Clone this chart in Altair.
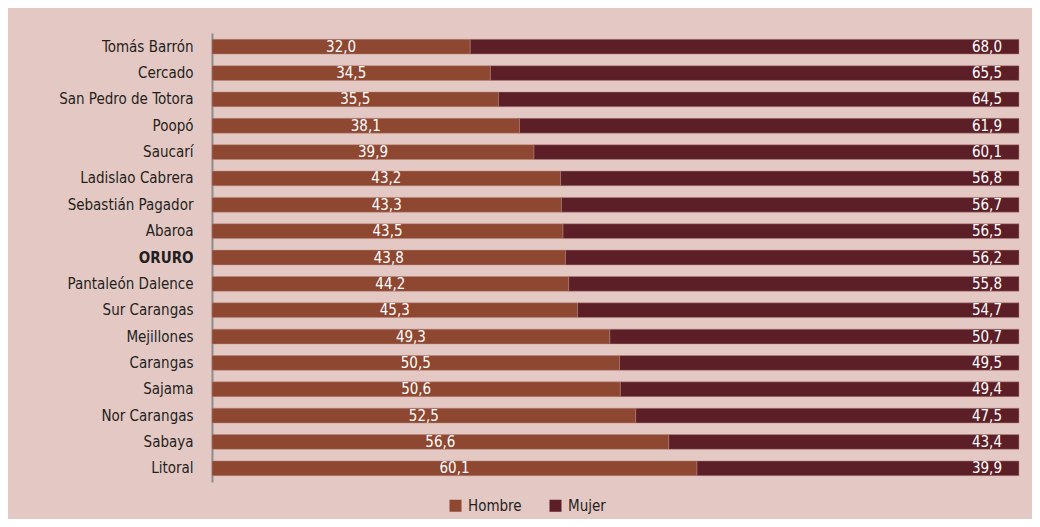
import altair as alt
import pandas as pd

names = ["Tomás Barrón", "Cercado", "San Pedro de Totora", "Poopó", "Saucarí",
         "Ladislao Cabrera", "Sebastián Pagador", "Abaroa", "ORURO",
         "Pantaleón Dalence", "Sur Carangas", "Mejillones", "Carangas",
         "Sajama", "Nor Carangas", "Sabaya", "Litoral"]
hombre = [32.0, 34.5, 35.5, 38.1, 39.9, 43.2, 43.3, 43.5, 43.8, 44.2, 45.3,
          49.3, 50.5, 50.6, 52.5, 56.6, 60.1]
mujer = [68.0, 65.5, 64.5, 61.9, 60.1, 56.8, 56.7, 56.5, 56.2, 55.8, 54.7,
         50.7, 49.5, 49.4, 47.5, 43.4, 39.9]
series = ["Hombre", "Mujer"]
colors = ["#8E4731", "#5D1F27"]

rows = []
for n, h, m in zip(names, hombre, mujer):
    rows.append({"name": n, "sexo": "Hombre", "start": 0.0, "end": h, "value": h})
    rows.append({"name": n, "sexo": "Mujer", "start": h, "end": h + m, "value": m})
df = pd.DataFrame(rows)

FONT = "DejaVu Sans Condensed, sans-serif"

y = alt.Y("name:N", sort=names, title=None,
          scale=alt.Scale(paddingInner=0.44, paddingOuter=0.24),
          axis=alt.Axis(domainColor="#8C8C8C", domainWidth=2, ticks=False,
                        labelPadding=19, labelFontSize=15, labelColor="#231F20",
                        labelFont=FONT,
                        labelFontWeight={"condition": {"test": "datum.value == 'ORURO'", "value": "bold"}, "value": "normal"}))
xs = alt.Scale(domain=[0, 100], nice=False, zero=True)

base = alt.Chart(df)

bars = base.mark_bar(strokeWidth=0.8, stroke="#B98A80", strokeOpacity=0.6).encode(
    y=y,
    x=alt.X("start:Q", scale=xs, axis=None),
    x2="end:Q",
    color=alt.Color("sexo:N", scale=alt.Scale(domain=series, range=colors),
                    legend=alt.Legend(title=None, orient="none", direction="horizontal",
                                      legendX=236, legendY=465, symbolType="square",
                                      symbolSize=144, symbolStrokeWidth=0,
                                      labelFontSize=15, labelFont=FONT,
                                      labelColor="#231F20", columnPadding=26,
                                      labelOffset=5)),
)

txt_h = base.transform_filter("datum.sexo == 'Hombre'").transform_calculate(
    mid="datum.value / 2",
    lab="replace(format(datum.value, '.1f'), '.', ',')"
).mark_text(color="white", fontSize=15, font=FONT, baseline="middle", align="center").encode(
    y=alt.Y("name:N", sort=names),
    x=alt.X("mid:Q", scale=xs),
    text="lab:N",
)

txt_m = base.transform_filter("datum.sexo == 'Mujer'").transform_calculate(
    lab="replace(format(datum.value, '.1f'), '.', ',')"
).mark_text(color="white", fontSize=15, font=FONT, baseline="middle", align="right", dx=-17).encode(
    y=alt.Y("name:N", sort=names),
    x=alt.X("end:Q", scale=xs),
    text="lab:N",
)

chart = alt.layer(bars, txt_h, txt_m).properties(
    width=807, height=449,
    autosize=alt.AutoSizeParams(type="none"),
    padding={"left": 204, "top": 25, "right": 13, "bottom": 37},
    background="#E3C8C4",
).configure_view(stroke=None)

chart.save("out.html", embed_options={"renderer": "svg", "actions": False})
